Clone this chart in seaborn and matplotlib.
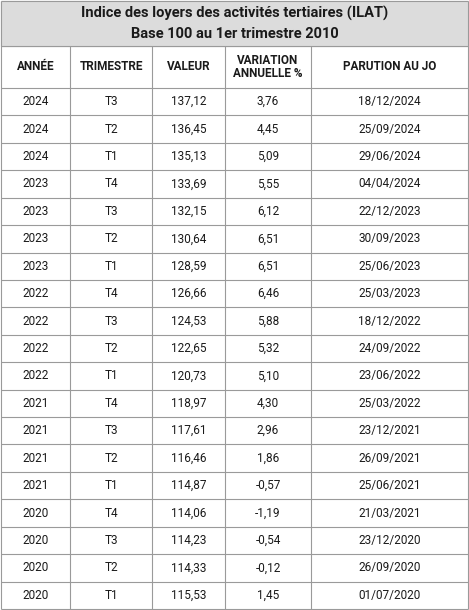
import matplotlib.pyplot as plt
import seaborn as sns

sns.set_style("white")
plt.rcParams['font.family'] = ['Roboto', 'DejaVu Sans']

title_lines = ["Indice des loyers des activités tertiaires (ILAT)", "Base 100 au 1er trimestre 2010"]
headers = ["ANNÉE", "TRIMESTRE", "VALEUR", "VARIATION\nANNUELLE %", "PARUTION AU JO"]
annees = ["2024", "2024", "2024", "2023", "2023", "2023", "2023", "2022", "2022", "2022",
          "2022", "2021", "2021", "2021", "2021", "2020", "2020", "2020", "2020"]
trimestres = ["T3", "T2", "T1", "T4", "T3", "T2", "T1", "T4", "T3", "T2",
              "T1", "T4", "T3", "T2", "T1", "T4", "T3", "T2", "T1"]
valeurs = ["137,12", "136,45", "135,13", "133,69", "132,15", "130,64", "128,59", "126,66", "124,53", "122,65",
           "120,73", "118,97", "117,61", "116,46", "114,87", "114,06", "114,23", "114,33", "115,53"]
variations = ["3,76", "4,45", "5,09", "5,55", "6,12", "6,51", "6,51", "6,46", "5,88", "5,32",
              "5,10", "4,30", "2,96", "1,86", "-0,57", "-1,19", "-0,54", "-0,12", "1,45"]
parutions = ["18/12/2024", "25/09/2024", "29/06/2024", "04/04/2024", "22/12/2023", "30/09/2023",
             "25/06/2023", "25/03/2023", "18/12/2022", "24/09/2022", "23/06/2022", "25/03/2022",
             "23/12/2021", "26/09/2021", "25/06/2021", "21/03/2021", "23/12/2020", "26/09/2020", "01/07/2020"]

W, H = 469, 610
col_edges = [1, 70, 152, 225, 311, 468]
title_bottom = 46
header_bottom = 88
n = len(annees)
row_h = (H - 1 - header_bottom) / n

fig = plt.figure(figsize=(W / 100, H / 100), dpi=100)
ax = fig.add_axes([0, 0, 1, 1])
ax.set_xlim(0, W)
ax.set_ylim(H, 0)
ax.axis('off')

line_c = '#9a9a9a'
ax.add_patch(plt.Rectangle((1, 1), W - 2, title_bottom - 1, color='#dcdcdc', zorder=0))
ax.text(W / 2, 13, title_lines[0], ha='center', va='center', fontsize=10.5, fontweight='bold', color='#1a1a1a')
ax.text(W / 2, 34, title_lines[1], ha='center', va='center', fontsize=10.5, fontweight='bold', color='#1a1a1a')

for i, h in enumerate(headers):
    cx = (col_edges[i] + col_edges[i + 1]) / 2
    ax.text(cx, (title_bottom + header_bottom) / 2, h, ha='center', va='center',
            fontsize=8.5, fontweight='bold', color='#1a1a1a', linespacing=1.0)

cols = [annees, trimestres, valeurs, variations, parutions]
for r in range(n):
    cy = header_bottom + (r + 0.5) * row_h
    for i, col in enumerate(cols):
        cx = (col_edges[i] + col_edges[i + 1]) / 2
        ax.text(cx, cy, col[r], ha='center', va='center', fontsize=8.5, color='#1a1a1a')

# grid lines
ax.hlines([1, title_bottom, header_bottom] + [header_bottom + k * row_h for k in range(1, n + 1)],
          1, W - 1, color=line_c, lw=0.8)
ax.vlines([1, W - 1], 1, H - 1, color=line_c, lw=0.8)
ax.vlines(col_edges[1:-1], title_bottom, H - 1, color=line_c, lw=0.8)

fig.savefig('out.png', dpi=100)
